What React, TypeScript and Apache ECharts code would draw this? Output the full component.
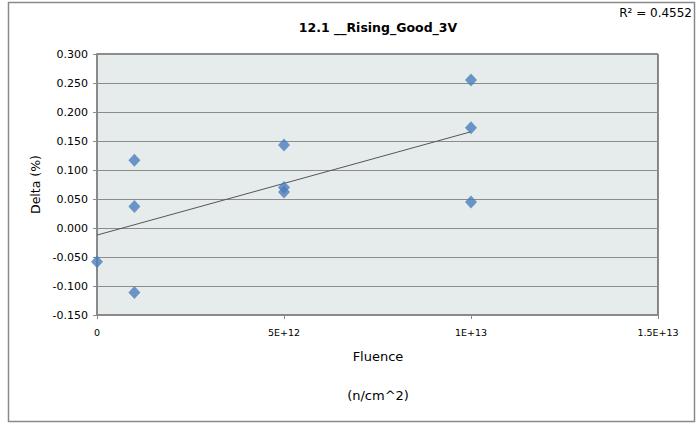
import React, { useEffect, useRef } from "react";
import * as echarts from "echarts";

const chartTitle = "12.1 __Rising_Good_3V";
const rSquaredText = "R² = 0.4552";
const yAxisTitle = "Delta (%)";
const xAxisTitle = "Fluence";
const xAxisUnit = "(n/cm^2)";

const fluence = [0, 1e12, 1e12, 1e12, 5e12, 5e12, 5e12, 1e13, 1e13, 1e13];
const delta = [-0.058, 0.117, 0.037, -0.111, 0.143, 0.07, 0.062, 0.255, 0.173, 0.045];

const xTickValues = [0, 5e12, 1e13, 1.5e13];
const xTickLabels = ["0", "5E+12", "1E+13", "1.5E+13"];
const yTickLabels = ["-0.150", "-0.100", "-0.050", "0.000", "0.050", "0.100", "0.150", "0.200", "0.250", "0.300"];

const FONT = "DejaVu Sans";

function linearFit(xs: number[], ys: number[]) {
  const n = xs.length;
  const mx = xs.reduce((a, b) => a + b, 0) / n;
  const my = ys.reduce((a, b) => a + b, 0) / n;
  let sxx = 0;
  let sxy = 0;
  for (let i = 0; i < n; i++) {
    sxx += (xs[i] - mx) * (xs[i] - mx);
    sxy += (xs[i] - mx) * (ys[i] - my);
  }
  const slope = sxy / sxx;
  return { slope, intercept: my - slope * mx };
}

export default function App() {
  const ref = useRef<HTMLDivElement>(null);
  useEffect(() => {
    if (!ref.current) return;
    const chart = echarts.init(ref.current, undefined, { renderer: "svg" });
    const fit = linearFit(fluence, delta);
    const xMin = Math.min(...fluence);
    const xMax = Math.max(...fluence);
    const trend = [
      [xMin, fit.intercept + fit.slope * xMin],
      [xMax, fit.intercept + fit.slope * xMax],
    ];
    const points = fluence.map((x, i) => [x, delta[i]]);

    chart.setOption({
      animation: false,
      backgroundColor: "#ffffff",
      textStyle: { fontFamily: FONT },
      grid: {
        left: 97,
        top: 54,
        right: 40,
        bottom: 109,
        show: true,
        backgroundColor: "#e6ecec",
        borderColor: "#1a1a1a",
        borderWidth: 1,
      },
      graphic: [
        {
          type: "rect",
          shape: { x: 8.5, y: 2.5, width: 686, height: 419 },
          style: { fill: "none", stroke: "#8a8a8a", lineWidth: 1.5 },
          silent: true,
          z: -10,
        },
        {
          type: "text",
          x: 378,
          y: 27,
          style: {
            text: chartTitle,
            fontFamily: FONT,
            fontSize: 12.5,
            fontWeight: "bold",
            fill: "#000",
            textAlign: "center",
            textVerticalAlign: "middle",
          },
        },
        {
          type: "text",
          x: 692,
          y: 13,
          style: {
            text: rSquaredText,
            fontFamily: FONT,
            fontSize: 12,
            fill: "#000",
            textAlign: "right",
            textVerticalAlign: "middle",
          },
        },
        {
          type: "text",
          x: 378,
          y: 356,
          style: {
            text: xAxisTitle,
            fontFamily: FONT,
            fontSize: 13,
            fill: "#000",
            textAlign: "center",
            textVerticalAlign: "middle",
          },
        },
        {
          type: "text",
          x: 378,
          y: 395,
          style: {
            text: xAxisUnit,
            fontFamily: FONT,
            fontSize: 13,
            fill: "#000",
            textAlign: "center",
            textVerticalAlign: "middle",
          },
        },
      ],
      xAxis: {
        type: "value",
        min: 0,
        max: 1.5e13,
        interval: 5e12,
        axisLine: { show: true, onZero: false, lineStyle: { color: "#8a8a8a", width: 2 } },
        axisTick: { show: true, inside: false, length: 4, lineStyle: { color: "#8a8a8a" } },
        axisLabel: {
          fontFamily: FONT,
          fontSize: 9.5,
          color: "#000",
          margin: 12,
          formatter: (v: number) => {
            const i = xTickValues.findIndex((t) => Math.abs(t - v) < 1);
            return i >= 0 ? xTickLabels[i] : "";
          },
        },
        splitLine: { show: false },
      },
      yAxis: {
        type: "value",
        min: -0.15,
        max: 0.3,
        interval: 0.05,
        name: yAxisTitle,
        nameLocation: "middle",
        nameGap: 51,
        nameTextStyle: { fontFamily: FONT, fontSize: 12.5, color: "#000" },
        axisLine: { show: true, onZero: false, lineStyle: { color: "#8a8a8a", width: 2 } },
        axisTick: { show: true, inside: false, length: 4, lineStyle: { color: "#8a8a8a" } },
        axisLabel: {
          fontFamily: FONT,
          fontSize: 11,
          color: "#000",
          margin: 9,
          formatter: (v: number) => {
            const i = Math.round((v + 0.15) / 0.05);
            return yTickLabels[i] ?? "";
          },
        },
        splitLine: { show: true, lineStyle: { color: "#8c8c8c", width: 1 } },
      },
      series: [
        {
          type: "line",
          data: trend,
          showSymbol: false,
          symbol: "none",
          lineStyle: { color: "#555555", width: 1 },
          z: 2,
          silent: true,
        },
        {
          type: "scatter",
          data: points,
          symbol: "diamond",
          symbolSize: [12, 13],
          itemStyle: { color: "#4a7ebb" },
          z: 3,
        },
      ],
    });
    return () => chart.dispose();
  }, []);
  return (
    <div
      ref={ref}
      style={{ position: "fixed", left: 0, top: 0, width: 698, height: 424, background: "#fff" }}
    />
  );
}
